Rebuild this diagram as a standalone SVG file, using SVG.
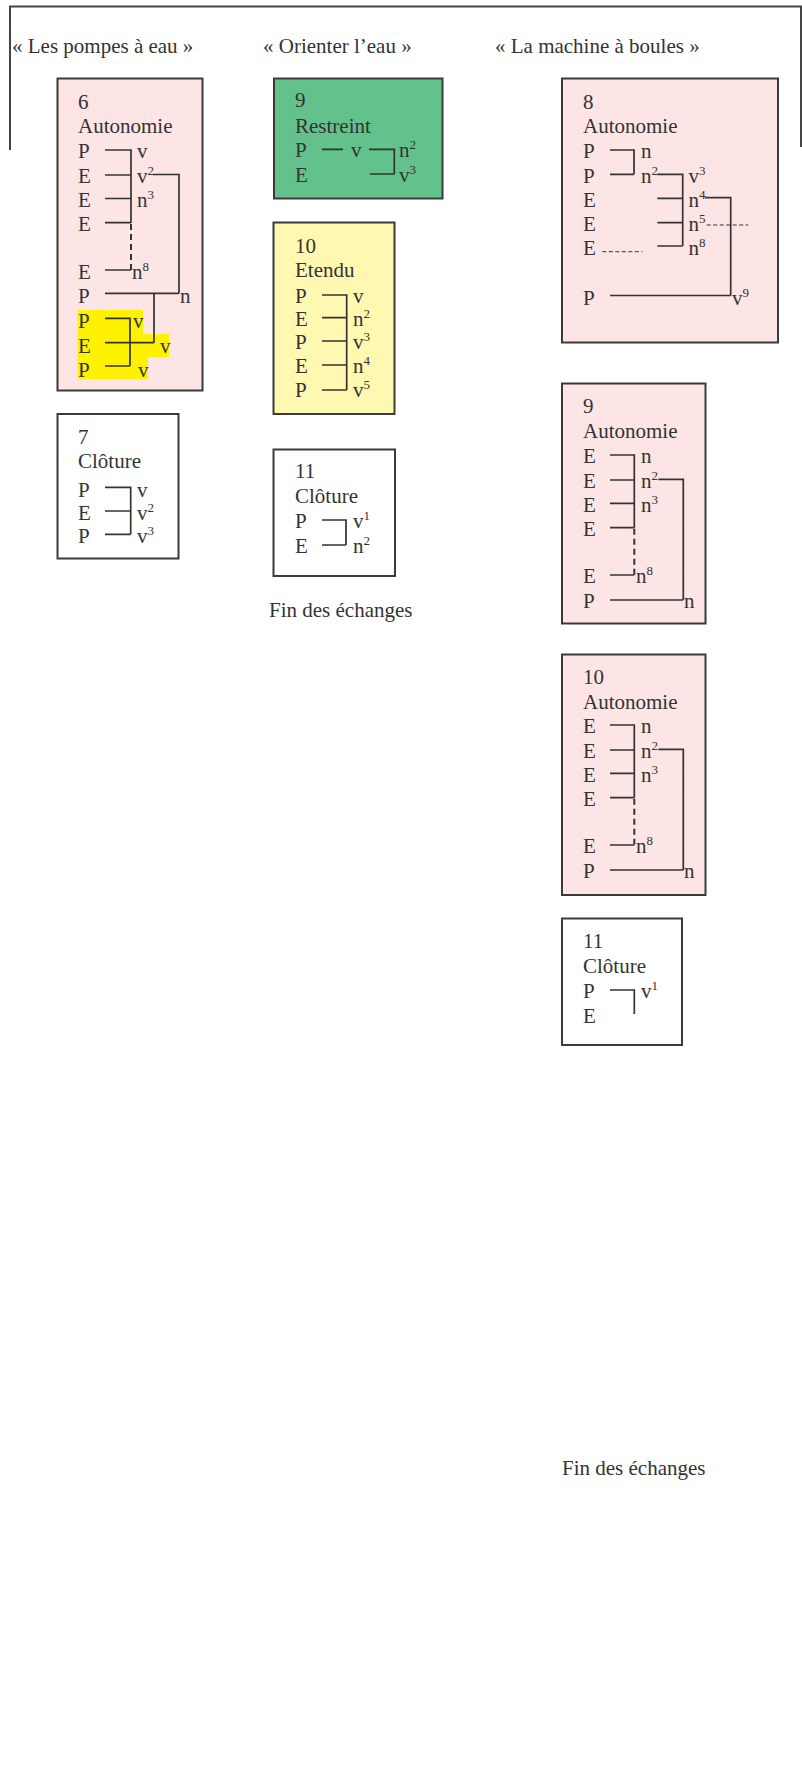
<svg xmlns="http://www.w3.org/2000/svg" width="802" height="1778" viewBox="0 0 802 1778">
<style>
text { font-family: "Liberation Serif", "Times New Roman", serif; font-size: 21px; fill: #333; }
.sup { font-size: 13px; }
.box { stroke: #3a3a3a; stroke-width: 2; }
.pink { fill: #fde5e5; }
.green { fill: #63c18b; }
.lyellow { fill: #fff8b0; }
.white { fill: #ffffff; }
.ln { stroke: #333; stroke-width: 1.7; fill: none; }
.dv { stroke: #333; stroke-width: 2; fill: none; stroke-dasharray: 6 4; }
.dh { stroke: #333; stroke-width: 1; fill: none; stroke-dasharray: 4 2.5; }
</style>
<rect width="802" height="1778" fill="#ffffff"/>
<g id="frame">
<path d="M10,150 V6.5 H801 V147" fill="none" stroke="#444" stroke-width="2"/>
</g>
<g id="headers">
<text x="12" y="53">« Les pompes à eau »</text>
<text x="263" y="53">« Orienter l’eau »</text>
<text x="495" y="53">« La machine à boules »</text>
</g>

<g id="node-6">
<rect class="box pink" x="57.5" y="78.5" width="145" height="312"/>
<path d="M78,310 H143 V334 H169 V357.3 H148 V379.3 H78 Z" fill="#fff200"/>
<text x="78" y="109">6</text>
<text x="78" y="133">Autonomie</text>
<text x="78" y="158">P</text>
<text x="78" y="182.5">E</text>
<text x="78" y="206.7">E</text>
<text x="78" y="231">E</text>
<text x="78" y="279.3">E</text>
<text x="78" y="303.3">P</text>
<text x="78" y="328.3">P</text>
<text x="78" y="352.7">E</text>
<text x="78" y="376.7">P</text>
<text x="137" y="158">v</text>
<text x="137" y="182.5">v<tspan class="sup" dy="-8">2</tspan></text>
<text x="137" y="206.7">n<tspan class="sup" dy="-8">3</tspan></text>
<text x="132" y="279.3">n<tspan class="sup" dy="-8">8</tspan></text>
<text x="180" y="303.3">n</text>
<text x="133" y="328.3">v</text>
<text x="160" y="353">v</text>
<text x="138" y="377">v</text>
</g>

<g id="node-7">
<rect class="box white" x="57.5" y="414" width="121" height="144.5"/>
<text x="78" y="444.3">7</text>
<text x="78" y="468.3">Clôture</text>
<text x="78" y="496.5">P</text>
<text x="78" y="519.5">E</text>
<text x="78" y="542.5">P</text>
<text x="137" y="496.5">v</text>
<text x="137" y="519.5">v<tspan class="sup" dy="-8">2</tspan></text>
<text x="137" y="542.5">v<tspan class="sup" dy="-8">3</tspan></text>
</g>

<g id="node-9-mid">
<rect class="box green" x="274" y="78.5" width="168.5" height="120"/>
<text x="295" y="106.7">9</text>
<text x="295" y="132.7">Restreint</text>
<text x="295" y="157.3">P</text>
<text x="295" y="181.7">E</text>
<text x="351" y="157.3">v</text>
<text x="399" y="157.3">n<tspan class="sup" dy="-8">2</tspan></text>
<text x="399" y="181.7">v<tspan class="sup" dy="-8">3</tspan></text>
</g>

<g id="node-10-mid">
<rect class="box lyellow" x="273.5" y="222.5" width="121" height="191.5"/>
<text x="295" y="253.3">10</text>
<text x="295" y="276.7">Etendu</text>
<text x="295" y="302.7">P</text>
<text x="295" y="326">E</text>
<text x="295" y="349.3">P</text>
<text x="295" y="373.3">E</text>
<text x="295" y="396.7">P</text>
<text x="353" y="302.7">v</text>
<text x="353" y="326">n<tspan class="sup" dy="-8">2</tspan></text>
<text x="353" y="349.3">v<tspan class="sup" dy="-8">3</tspan></text>
<text x="353" y="373.3">n<tspan class="sup" dy="-8">4</tspan></text>
<text x="353" y="396.7">v<tspan class="sup" dy="-8">5</tspan></text>
</g>

<g id="node-11-mid">
<rect class="box white" x="273.5" y="449.5" width="121.5" height="126.5"/>
<text x="295" y="478.3">11</text>
<text x="295" y="503.3">Clôture</text>
<text x="295" y="528.3">P</text>
<text x="295" y="553.3">E</text>
<text x="353" y="528.3">v<tspan class="sup" dy="-8">1</tspan></text>
<text x="353" y="553.3">n<tspan class="sup" dy="-8">2</tspan></text>
</g>
<text id="end-mid" x="269" y="617">Fin des échanges</text>

<g id="node-8-right">
<rect class="box pink" x="562" y="78.5" width="216" height="264"/>
<text x="583" y="109.3">8</text>
<text x="583" y="133.3">Autonomie</text>
<text x="583" y="158.3">P</text>
<text x="583" y="182.7">P</text>
<text x="583" y="206.7">E</text>
<text x="583" y="231">E</text>
<text x="583" y="255">E</text>
<text x="583" y="304.5">P</text>
<text x="641" y="158.3">n</text>
<text x="641" y="182.7">n<tspan class="sup" dy="-8">2</tspan></text>
<text x="688.5" y="182.7">v<tspan class="sup" dy="-8">3</tspan></text>
<text x="688.5" y="206.7">n<tspan class="sup" dy="-8">4</tspan></text>
<text x="688.5" y="231">n<tspan class="sup" dy="-8">5</tspan></text>
<text x="688.5" y="255">n<tspan class="sup" dy="-8">8</tspan></text>
<text x="732" y="304.5">v<tspan class="sup" dy="-8">9</tspan></text>
</g>

<g id="node-9-right">
<rect class="box pink" x="562" y="383.5" width="143.5" height="240"/>
<text x="583" y="413.3">9</text>
<text x="583" y="438.3">Autonomie</text>
<text x="583" y="463.3">E</text>
<text x="583" y="488">E</text>
<text x="583" y="511.7">E</text>
<text x="583" y="536">E</text>
<text x="583" y="583.3">E</text>
<text x="583" y="607.7">P</text>
<text x="641" y="463.3">n</text>
<text x="641" y="488">n<tspan class="sup" dy="-8">2</tspan></text>
<text x="641" y="511.7">n<tspan class="sup" dy="-8">3</tspan></text>
<text x="636" y="583.3">n<tspan class="sup" dy="-8">8</tspan></text>
<text x="684" y="607.7">n</text>
</g>

<g id="node-10-right">
<rect class="box pink" x="562" y="654.5" width="143.5" height="240.5"/>
<text x="583" y="684.3">10</text>
<text x="583" y="709">Autonomie</text>
<text x="583" y="733.3">E</text>
<text x="583" y="758">E</text>
<text x="583" y="781.7">E</text>
<text x="583" y="806">E</text>
<text x="583" y="853.3">E</text>
<text x="583" y="877.7">P</text>
<text x="641" y="733.3">n</text>
<text x="641" y="758">n<tspan class="sup" dy="-8">2</tspan></text>
<text x="641" y="781.7">n<tspan class="sup" dy="-8">3</tspan></text>
<text x="636" y="853.3">n<tspan class="sup" dy="-8">8</tspan></text>
<text x="684" y="877.7">n</text>
</g>

<g id="node-11-right">
<rect class="box white" x="562" y="918.5" width="120" height="126.5"/>
<text x="583" y="948.3">11</text>
<text x="583" y="973.3">Clôture</text>
<text x="583" y="998.3">P</text>
<text x="583" y="1023.3">E</text>
<text x="641" y="998.3">v<tspan class="sup" dy="-8">1</tspan></text>
</g>
<text id="end-right" x="562" y="1475">Fin des échanges</text>

<g id="connectors">
<g id="c-node-6">
<path class="ln" d="M105,150 H131 V223 M105,175 H131 M105,198.5 H131 M105,222.7 H131 M105,270 H131"/>
<path class="dv" d="M131,224 V270"/>
<path class="ln" d="M153,174.5 H179 V293.3 M105,293.3 H179 M154,293.3 V342.7 M105,342.7 H154 M105,318.3 H130 V366 M105,366 H130"/>
</g>
<g id="c-node-7">
<path class="ln" d="M105,487.3 H130.7 V534.3 M105,511 H130.7 M105,534.3 H130.7"/>
</g>
<g id="c-node-9-mid">
<path class="ln" d="M322,149.3 H343 M369,149.3 H394.3 V174 M370,174 H394.3"/>
</g>
<g id="c-node-10-mid">
<path class="ln" d="M322,295 H346.7 V390 M322,317.7 H346.7 M322,341 H346.7 M322,365 H346.7 M322,390 H346.7"/>
</g>
<g id="c-node-11-mid">
<path class="ln" d="M322,520 H346 V545 M322,545 H346"/>
</g>
<g id="c-node-8-right">
<path class="ln" d="M610,150 H634 V174.3 M610,174.3 H634 M657.3,174.3 H682.7 V246 M657.3,198.3 H682.7 M657.3,222.7 H682.7 M657.3,246 H682.7 M705,197.7 H730.7 V295.5 M610,295.5 H730.7"/>
<path class="dh" d="M706.7,225 H748.3 M602.3,251.7 H642.3"/>
</g>
<g id="c-node-9-right">
<path class="ln" d="M610,455 H634.3 V527.7 M610,480 H634.3 M610,503.3 H634.3 M610,527.7 H634.3 M610,575 H634.3 M658.3,479.3 H683.3 V600 M610,600 H683.3"/>
<path class="dv" d="M634.3,528.7 V575"/>
</g>
<g id="c-node-10-right">
<path class="ln" d="M610,725 H634.3 V797.7 M610,750 H634.3 M610,773.3 H634.3 M610,797.7 H634.3 M610,845 H634.3 M658.3,749.3 H683.3 V870 M610,870 H683.3"/>
<path class="dv" d="M634.3,798.7 V845"/>
</g>
<g id="c-node-11-right">
<path class="ln" d="M610,990 H634.3 V1014"/>
</g>
</g>
</svg>
